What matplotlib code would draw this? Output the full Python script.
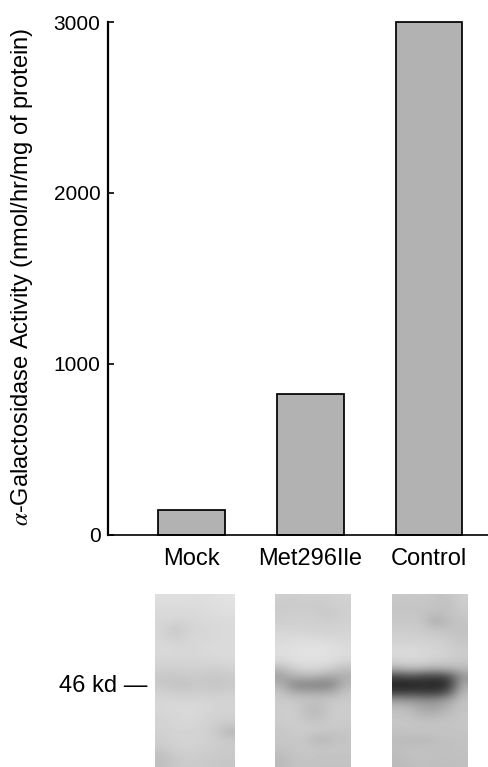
import numpy as np
import matplotlib
matplotlib.use("Agg")
import matplotlib.pyplot as plt

plt.rcParams['font.family'] = ['Liberation Sans', 'DejaVu Sans']
plt.rcParams['mathtext.fontset'] = 'stix'

categories = ["Mock", "Met296Ile", "Control"]
activity = [143, 822, 3000]
y_ticks = [0, 1000, 2000, 3000]
y_label = r"$\alpha$-Galactosidase Activity (nmol/hr/mg of protein)"
band_label = "46 kd \u2014"

# grey levels read from the blot, rows top to bottom, columns left to right
lane_mock = [
    [222, 224, 222, 222, 224, 226],
    [218, 220, 218, 220, 222, 224],
    [216, 216, 216, 218, 220, 222],
    [214, 214, 212, 216, 218, 218],
    [214, 196, 212, 214, 216, 218],
    [214, 204, 214, 214, 216, 218],
    [216, 214, 214, 216, 218, 218],
    [216, 216, 214, 216, 218, 218],
    [212, 214, 212, 214, 214, 216],
    [208, 206, 208, 208, 206, 210],
    [200, 198, 202, 202, 198, 202],
    [200, 196, 196, 200, 196, 200],
    [208, 204, 204, 206, 204, 206],
    [214, 214, 212, 214, 210, 212],
    [214, 216, 216, 216, 212, 212],
    [212, 214, 216, 214, 210, 208],
    [210, 214, 214, 212, 206, 202],
    [208, 212, 212, 210, 204, 182],
    [206, 210, 212, 210, 206, 200],
    [202, 208, 210, 208, 204, 202],
    [192, 202, 206, 204, 202, 200],
    [190, 200, 204, 202, 200, 198],
]
lane_met = [
    [206, 204, 208, 206, 208, 210],
    [202, 202, 204, 200, 206, 206],
    [204, 206, 206, 204, 200, 208],
    [206, 208, 208, 206, 206, 208],
    [212, 212, 210, 210, 210, 212],
    [216, 218, 218, 216, 214, 214],
    [220, 222, 224, 224, 222, 218],
    [222, 224, 226, 226, 224, 220],
    [216, 222, 224, 224, 220, 214],
    [186, 206, 212, 212, 204, 190],
    [160, 176, 182, 176, 164, 176],
    [178, 134, 130, 128, 132, 182],
    [196, 172, 170, 170, 172, 196],
    [202, 200, 196, 194, 200, 202],
    [204, 206, 190, 186, 204, 204],
    [204, 206, 192, 190, 204, 204],
    [202, 206, 202, 200, 202, 202],
    [198, 202, 204, 200, 198, 198],
    [198, 200, 196, 180, 190, 196],
    [196, 198, 200, 196, 198, 198],
    [188, 196, 198, 196, 196, 196],
    [186, 194, 196, 194, 194, 194],
]
lane_control = [
    [200, 198, 200, 196, 196, 206],
    [196, 196, 198, 194, 192, 204],
    [198, 198, 196, 188, 196, 200],
    [200, 200, 198, 168, 190, 196],
    [204, 204, 202, 198, 194, 194],
    [208, 208, 206, 204, 200, 196],
    [214, 214, 212, 210, 206, 200],
    [218, 218, 216, 214, 208, 204],
    [212, 214, 212, 206, 204, 200],
    [176, 188, 182, 176, 180, 184],
    [70, 80, 66, 62, 78, 150],
    [34, 30, 42, 34, 48, 170],
    [62, 66, 62, 58, 92, 186],
    [156, 150, 144, 146, 164, 194],
    [190, 182, 166, 164, 182, 196],
    [196, 192, 182, 184, 192, 198],
    [198, 198, 196, 196, 196, 198],
    [194, 196, 196, 196, 196, 196],
    [188, 184, 184, 190, 192, 194],
    [190, 192, 192, 192, 192, 194],
    [188, 194, 194, 192, 192, 192],
    [186, 190, 192, 190, 190, 192],
]
lanes = [lane_mock, lane_met, lane_control]
lane_left = [155, 275, 392]
lane_right = [234, 351, 468]

W, H = 488, 767
fig = plt.figure(figsize=(W / 100, H / 100), dpi=100)
L, R, T, B = 107.5, 488, 22, 534.5
ax = fig.add_axes([L / W, 1 - B / H, (R - L) / W, (B - T) / H])

ax.bar(range(3), activity, width=0.562, color="#b2b2b2", edgecolor="black", linewidth=1.25, clip_on=False)
ax.set_xlim(-0.71, 2.498)
ax.set_ylim(0, 3000)
ax.set_xticks(range(3), categories)
ax.set_yticks(y_ticks)
ax.tick_params(axis="x", length=0, pad=9.5, labelsize=17)
ax.tick_params(axis="y", direction="in", length=4, width=1.2, pad=5, labelsize=15)
ax.spines[["top", "right"]].set_visible(False)
ax.spines["left"].set_linewidth(1.6)
ax.spines["bottom"].set_linewidth(1.2)
ax.set_ylabel(y_label, fontsize=17)
ax.yaxis.set_label_coords(35 / W, 1 - 277 / H, transform=fig.transFigure)

for data, x0, x1 in zip(lanes, lane_left, lane_right):
    a = fig.add_axes([x0 / W, 0, (x1 - x0) / W, 1 - 594 / H])
    a.imshow(np.array(data), cmap="gray", vmin=0, vmax=255, aspect="auto", interpolation="bicubic")
    a.axis("off")

fig.text(147 / W, 1 - 686 / H, band_label, ha="right", va="center", fontsize=17)
fig.savefig("out.png", dpi=100)
